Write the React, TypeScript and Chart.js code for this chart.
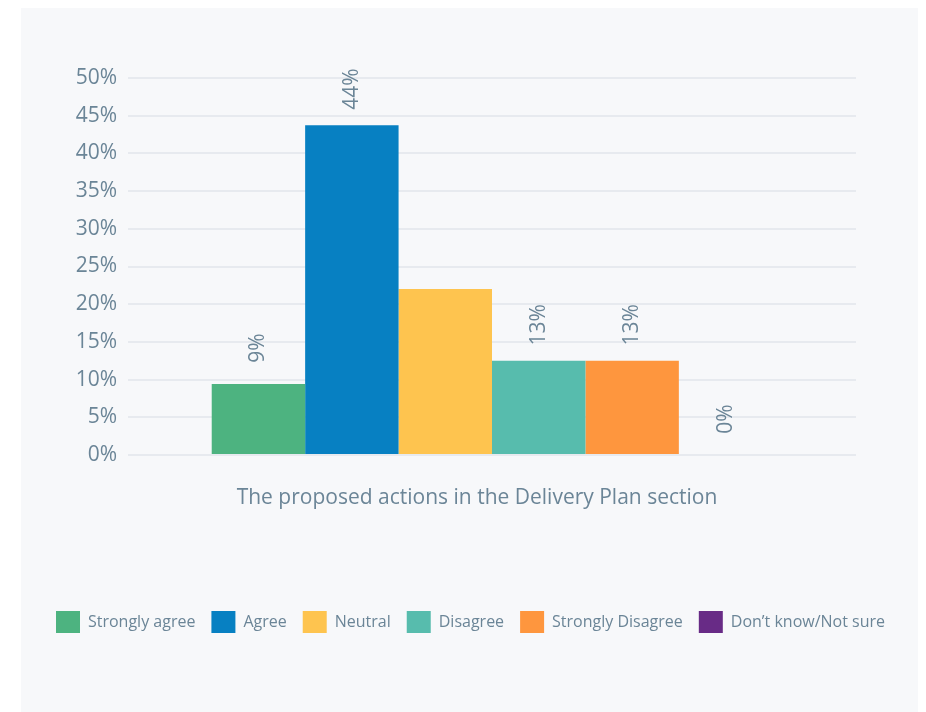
import React, { useEffect, useRef } from "react";
import { Chart, registerables } from "chart.js";

Chart.register(...registerables);

const categories = ["The proposed actions in the Delivery Plan section"];
const seriesNames = ["Strongly agree", "Agree", "Neutral", "Disagree", "Strongly Disagree", "Don\u2019t know/Not sure"];
const seriesValues = [9.4, 43.75, 22, 12.5, 12.5, 0];
const barLabels = ["9%", "44%", "", "13%", "13%", "0%"];
const seriesColors = ["#4db380", "#0780c2", "#fec44f", "#57bcad", "#fe963e", "#682b86"];
const yTicks = [0, 5, 10, 15, 20, 25, 30, 35, 40, 45, 50];

const FONT = "'Open Sans', sans-serif";
const TEXT = "#6b8597";

const barLabelPlugin = {
  id: "barLabels",
  afterDatasetsDraw(chart: any) {
    const ctx = chart.ctx;
    ctx.save();
    ctx.fillStyle = TEXT;
    ctx.font = `21px ${FONT}`;
    ctx.textAlign = "center";
    ctx.textBaseline = "middle";
    chart.data.datasets.forEach((ds: any, i: number) => {
      const meta = chart.getDatasetMeta(i);
      meta.data.forEach((bar: any) => {
        const txt = barLabels[i];
        if (!txt) return;
        ctx.save();
        ctx.translate(bar.x, bar.y - 36);
        ctx.rotate(-Math.PI / 2);
        ctx.fillText(txt, 0, 0);
        ctx.restore();
      });
    });
    ctx.restore();
  },
};

export default function App() {
  const ref = useRef<HTMLCanvasElement>(null);
  useEffect(() => {
    if (!ref.current) return;
    const chart = new Chart(ref.current, {
      type: "bar",
      data: {
        labels: categories,
        datasets: seriesNames.map((name, i) => ({
          label: name,
          data: [seriesValues[i]],
          backgroundColor: seriesColors[i],
          borderWidth: 0,
          categoryPercentage: 0.77,
          barPercentage: 1,
        })),
      },
      options: {
        animation: false,
        responsive: true,
        maintainAspectRatio: false,
        layout: { padding: { top: 70, right: 0, left: 0, bottom: 69 } },
        plugins: {
          tooltip: { enabled: false },
          legend: {
            position: "bottom",
            labels: {
              boxWidth: 24,
              boxHeight: 22,
              padding: 16,
              color: TEXT,
              font: { family: FONT, size: 16 },
            },
          },
        },
        scales: {
          x: {
            grid: { display: false, drawTicks: false },
            border: { display: false },
            ticks: {
              color: TEXT,
              font: { family: FONT, size: 21 },
              padding: 30,
              labelOffset: -15,
            },
            afterFit(scale: any) {
              scale.height = 140;
            },
          },
          y: {
            min: 0,
            max: 50,
            afterBuildTicks(scale: any) {
              scale.ticks = yTicks.map((v) => ({ value: v }));
            },
            grid: { color: "#e7eaef", lineWidth: 2, drawTicks: false },
            border: { display: false },
            ticks: {
              color: TEXT,
              font: { family: FONT, size: 21 },
              padding: 11,
              callback: (v: any) => v + "%",
            },
            afterFit(scale: any) {
              scale.width = 107;
            },
          },
          yRight: {
            position: "right",
            min: 0,
            max: 50,
            grid: { display: false, drawTicks: false },
            border: { display: false },
            ticks: { display: false },
            afterFit(scale: any) {
              scale.width = 64;
            },
          },
        },
      },
      plugins: [barLabelPlugin],
    });
    return () => chart.destroy();
  }, []);
  return (
    <div style={{ marginLeft: 13, width: 899, height: 704, background: "#f7f8fa", position: "relative" }}>
      <canvas ref={ref} />
    </div>
  );
}
